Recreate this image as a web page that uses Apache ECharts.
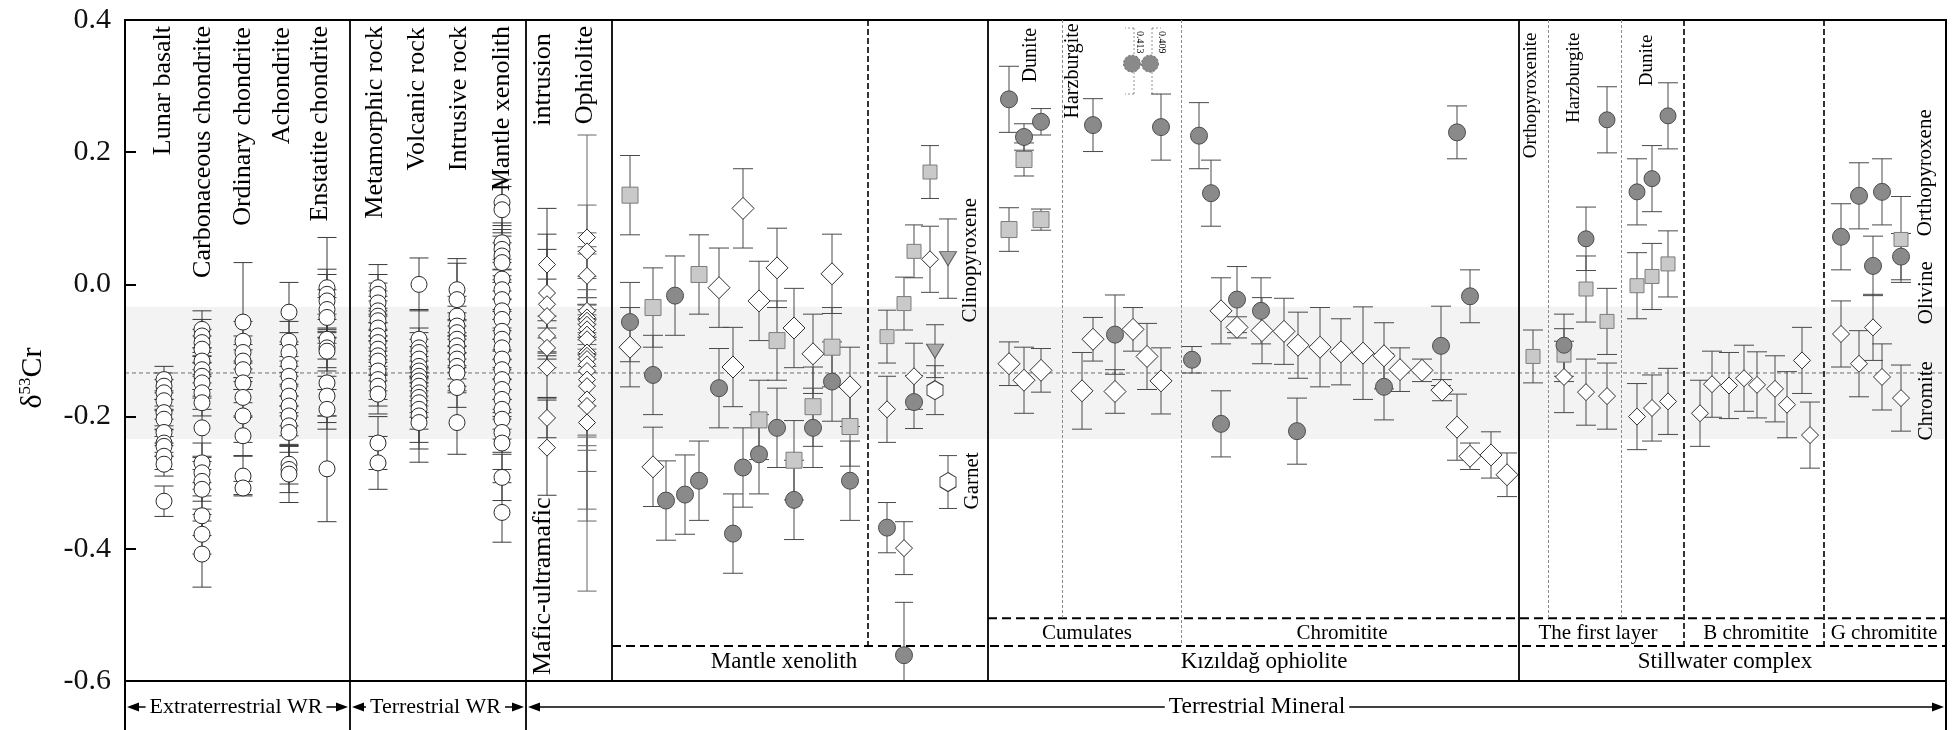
<!DOCTYPE html>
<html>
<head>
<meta charset="utf-8">
<title>δ53Cr compilation</title>
<script src="https://cdn.jsdelivr.net/npm/echarts/dist/echarts.min.js"></script>
<style>
  html, body { margin: 0; padding: 0; background: #fff; }
  #chart { width: 1959px; height: 730px; }
</style>
</head>
<body>
<div id="chart"></div>
<script>
// ---------------------------------------------------------------------------
// Axis ranges. The horizontal axis is a running "sample position" axis.
// ---------------------------------------------------------------------------
const X_MAX = 182.1;
const Y_MIN = -0.6, Y_MAX = 0.4, Y_STEP = 0.2;

// Bulk silicate Earth reference band and its mean
const bseBand = [-0.234, -0.034];
const bseMean = -0.134;

// ---------------------------------------------------------------------------
// Whole-rock columns: [δ53Cr, 2SD]
// ---------------------------------------------------------------------------
const wrColumnX = [3.9, 7.7, 11.8, 16.4, 20.2, 25.3, 29.4, 33.2, 37.7, 42.2, 46.2];

const lunarBasalt = [[-0.144,0.02],[-0.154,0.02],[-0.164,0.02],[-0.176,0.015],[-0.194,0.02],[-0.204,0.015],[-0.224,0.02],[-0.240,0.02],[-0.245,0.015],[-0.260,0.02],[-0.272,0.018],[-0.328,0.023]];
const carbonaceousChondrite = [[-0.068,0.028],[-0.078,0.025],[-0.088,0.02],[-0.098,0.02],[-0.116,0.02],[-0.129,0.02],[-0.139,0.02],[-0.149,0.02],[-0.164,0.025],[-0.179,0.02],[-0.217,0.045],[-0.270,0.03],[-0.285,0.025],[-0.298,0.03],[-0.310,0.03],[-0.350,0.03],[-0.378,0.03],[-0.408,0.05]];
const ordinaryChondrite = [[-0.057,0.09],[-0.086,0.03],[-0.103,0.025],[-0.116,0.025],[-0.129,0.03],[-0.149,0.03],[-0.171,0.03],[-0.199,0.04],[-0.229,0.03],[-0.290,0.03],[-0.308,0.01]];
const achondrite = [[-0.042,0.045],[-0.086,0.03],[-0.103,0.03],[-0.121,0.03],[-0.139,0.03],[-0.154,0.03],[-0.169,0.03],[-0.184,0.03],[-0.199,0.03],[-0.214,0.03],[-0.224,0.03],[-0.272,0.03],[-0.280,0.035],[-0.287,0.043]];
const enstatiteChondrite = [[-0.005,0.076],[-0.015,0.03],[-0.025,0.048],[-0.038,0.03],[-0.050,0.03],[-0.083,0.03],[-0.096,0.03],[-0.101,0.03],[-0.149,0.06],[-0.169,0.03],[-0.189,0.03],[-0.279,0.08]];
const metamorphicRock = [[-0.005,0.035],[-0.015,0.03],[-0.028,0.03],[-0.040,0.03],[-0.048,0.03],[-0.055,0.03],[-0.066,0.03],[-0.078,0.03],[-0.088,0.03],[-0.098,0.03],[-0.108,0.03],[-0.116,0.03],[-0.131,0.03],[-0.144,0.03],[-0.154,0.03],[-0.166,0.03],[-0.240,0.04],[-0.270,0.04]];
const volcanicRock = [[0.000,0.04],[-0.083,0.045],[-0.096,0.03],[-0.103,0.03],[-0.113,0.03],[-0.124,0.03],[-0.131,0.03],[-0.139,0.03],[-0.146,0.03],[-0.154,0.03],[-0.164,0.03],[-0.171,0.03],[-0.179,0.04],[-0.189,0.05],[-0.199,0.05],[-0.209,0.06]];
const intrusiveRock = [[-0.008,0.047],[-0.023,0.055],[-0.048,0.03],[-0.063,0.03],[-0.073,0.03],[-0.083,0.03],[-0.093,0.03],[-0.103,0.03],[-0.113,0.03],[-0.124,0.03],[-0.134,0.03],[-0.156,0.03],[-0.209,0.048]];
const mantleXenolithWR = [[0.124,0.035],[0.113,0.035],[0.063,0.03],[0.053,0.03],[0.043,0.03],[0.033,0.03],[0.008,0.03],[-0.008,0.03],[-0.023,0.03],[-0.040,0.03],[-0.053,0.03],[-0.071,0.03],[-0.083,0.03],[-0.096,0.03],[-0.113,0.03],[-0.129,0.03],[-0.144,0.03],[-0.159,0.03],[-0.174,0.03],[-0.189,0.03],[-0.204,0.03],[-0.224,0.03],[-0.240,0.04],[-0.292,0.035],[-0.345,0.045]];
const maficUltramaficIntrusion = [[0.030,0.085],[-0.013,0.089],[-0.030,0.083],[-0.048,0.056],[-0.078,0.03],[-0.096,0.03],[-0.126,0.045],[-0.202,0.03],[-0.247,0.072]];
const ophioliteWR = [[0.071,0.155],[0.050,0.07],[0.013,0.065],[-0.040,0.02],[-0.050,0.03],[-0.055,0.025],[-0.061,0.03],[-0.068,0.03],[-0.076,0.03],[-0.083,0.03],[-0.103,0.03],[-0.108,0.12],[-0.113,0.17],[-0.121,0.13],[-0.131,0.10],[-0.144,0.04],[-0.154,0.204],[-0.174,0.166],[-0.184,0.06],[-0.209,0.255]];

// ---------------------------------------------------------------------------
// Mineral separates: [sample position, δ53Cr, 2SD]
// ---------------------------------------------------------------------------
// Mantle xenoliths
const mxOlivine = [[50.5,-0.057,0.06],[52.8,-0.137,0.06],[54.1,-0.327,0.06],[55.0,-0.017,0.06],[56.0,-0.318,0.06],[57.4,-0.297,0.06],[59.4,-0.157,0.06],[60.8,-0.377,0.06],[61.8,-0.277,0.06],[63.4,-0.257,0.06],[65.2,-0.217,0.06],[66.9,-0.326,0.06],[68.8,-0.217,0.06],[70.7,-0.147,0.06],[72.5,-0.297,0.06]];
const mxOrthopyroxene = [[50.5,0.135,0.06],[52.8,-0.035,0.06],[57.4,0.015,0.06],[63.4,-0.205,0.06],[65.2,-0.085,0.06],[66.9,-0.266,0.06],[68.8,-0.185,0.06],[70.7,-0.095,0.06],[72.5,-0.215,0.06]];
const mxSpinel = [[50.5,-0.095,0.06],[52.8,-0.276,0.06],[59.4,-0.005,0.06],[60.8,-0.125,0.06],[61.8,0.115,0.06],[63.4,-0.025,0.06],[65.2,0.025,0.06],[66.9,-0.066,0.06],[68.8,-0.105,0.06],[70.7,0.016,0.06],[72.5,-0.155,0.06]];
const mxbOrthopyroxene = [[76.2,-0.079,0.04],[77.9,-0.029,0.04],[78.9,0.050,0.04],[80.5,0.170,0.04]];
const mxbSpinel = [[76.2,-0.189,0.05],[77.9,-0.399,0.04],[78.9,-0.139,0.05],[80.5,0.038,0.05]];
const mxbOlivine = [[76.2,-0.368,0.038],[77.9,-0.561,0.08],[78.9,-0.178,0.04]];
const mxbClinopyroxene = [[81.0,-0.101,0.04],[82.3,0.039,0.06]];
const mxbGarnet = [[81.0,-0.160,0.037],[82.3,-0.299,0.04]];

// Kızıldağ ophiolite
const kzOlivine = [[88.4,0.280,0.05],[89.9,0.223,0.02],[91.6,0.246,0.02],[96.8,0.241,0.04],[99.0,-0.076,0.06],[103.6,0.238,0.05],[106.7,-0.114,0.02],[107.4,0.225,0.05],[108.6,0.138,0.05],[109.6,-0.211,0.05],[111.2,-0.023,0.05],[113.6,-0.040,0.05],[117.2,-0.222,0.05],[125.9,-0.155,0.05],[131.6,-0.093,0.06],[133.2,0.230,0.04],[134.5,-0.018,0.04]];
const kzOlivineOffScale = [[100.7,0.413],[102.5,0.409]];
const kzPyroxene = [[88.4,0.083,0.033],[89.9,0.189,0.025],[91.6,0.098,0.016]];
const kzChromite = [[88.4,-0.120,0.033],[89.9,-0.145,0.05],[91.6,-0.130,0.033],[95.7,-0.161,0.058],[96.8,-0.083,0.033],[99.0,-0.162,0.033],[100.8,-0.068,0.033],[102.2,-0.109,0.05],[103.6,-0.146,0.05],[109.6,-0.040,0.05],[111.2,-0.065,0.016],[113.7,-0.070,0.05],[115.9,-0.071,0.05],[117.3,-0.092,0.05],[119.5,-0.095,0.06],[121.6,-0.102,0.05],[123.8,-0.104,0.07],[125.9,-0.108,0.05],[127.5,-0.129,0.033],[129.7,-0.130,0.017],[131.7,-0.160,0.016],[133.2,-0.216,0.05],[134.5,-0.260,0.02],[136.6,-0.258,0.035],[138.2,-0.288,0.033]];

// Stillwater complex
const swOrthopyroxene = [[140.8,-0.109,0.04],[143.9,-0.107,0.04],[146.1,-0.007,0.05],[148.2,-0.056,0.05],[151.2,-0.002,0.05],[152.7,0.012,0.05],[154.3,0.031,0.05]];
const swOlivine = [[143.9,-0.092,0.047],[146.1,0.069,0.048],[148.2,0.249,0.05],[151.2,0.140,0.05],[152.7,0.160,0.05],[154.3,0.255,0.05]];
const swChromite = [[143.9,-0.140,0.054],[146.1,-0.163,0.05],[148.2,-0.169,0.05],[151.2,-0.200,0.05],[152.7,-0.187,0.05],[154.3,-0.177,0.05]];
const bChromitite = [[157.5,-0.195,0.05],[158.7,-0.151,0.05],[160.4,-0.153,0.05],[161.9,-0.142,0.05],[163.2,-0.152,0.05],[165.0,-0.158,0.05],[166.2,-0.182,0.05],[167.7,-0.115,0.05],[168.5,-0.228,0.05]];
const gOlivine = [[171.6,0.072,0.05],[173.4,0.134,0.05],[174.8,0.028,0.045],[175.7,0.140,0.05],[177.6,0.042,0.035]];
const gOrthopyroxene = [[177.6,0.068,0.065]];
const gChromite = [[171.6,-0.075,0.05],[173.4,-0.120,0.05],[174.8,-0.065,0.05],[175.7,-0.140,0.05],[177.6,-0.172,0.05]];

// ---------------------------------------------------------------------------
// Text
// ---------------------------------------------------------------------------
const wrNames = ['Lunar basalt','Carbonaceous chondrite','Ordinary chondrite','Achondrite','Enstatite chondrite','Metamorphic rock','Volcanic rock','Intrusive rock','Mantle xenolith','intrusion','Ophiolite'];
const wrNameX = [3.8, 7.8, 11.8, 15.7, 19.5, 25.0, 29.25, 33.4, 37.7, 41.8, 46.0];
const wrNameTop = [0.391, 0.391, 0.389, 0.389, 0.391, 0.391, 0.389, 0.391, 0.391, 0.380, 0.391];
const maficLowerName = 'Mafic-ultramafic';
const maficLowerAt = [41.8, -0.591];

const kzRockNames = ['Dunite', 'Harzburgite'];
const kzRockX = [90.6, 94.8];
const kzRockTop = [0.388, 0.395];
const swRockNames = ['Orthopyroxenite', 'Harzburgite', 'Dunite'];
const swRockX = [140.6, 144.9, 152.2];
const swRockTop = [0.381, 0.381, 0.378];
const mineralNames = ['Clinopyroxene', 'Garnet', 'Orthopyroxene', 'Olivine', 'Chromite'];
const mineralNameX = [84.5, 84.7, 180.0, 180.1, 180.1];
const mineralNameTop = [0.131, -0.254, 0.265, 0.035, -0.116];

const unitNames = ['Cumulates', 'Chromitite', 'The first layer', 'B chromitite', 'G chromitite'];
const unitNameX = [96.2, 121.7, 147.3, 163.1, 175.9];
const complexNames = ['Mantle xenolith', 'Kızıldağ ophiolite', 'Stillwater complex'];
const complexNameX = [65.9, 113.9, 160.0];
const groupNames = ['Extraterrestrial WR', 'Terrestrial WR', 'Terrestrial Mineral'];
const groupSpans = [[0, 22.5], [22.5, 40.1], [40.1, X_MAX]];
const groupNameX = [11.1, 31.05, 113.2];
const groupNameSize = [22, 22, 23.5];

// ---------------------------------------------------------------------------
// Panel layout (positions along the sample axis / δ53Cr)
// ---------------------------------------------------------------------------
const fullDividers = [22.5, 40.1];
const plotDividers = [48.7, 86.3, 139.4];
const dashedDividers = [74.3, 155.9, 169.9];
const dottedToUnitRow = [93.7, 142.3, 149.6];
const dottedToComplexRow = [105.6];
const complexRow = { from: 48.7, y: -0.547 };
const unitRow = { from: 86.3, y: -0.505 };
const unitLabelY = -0.5274;
const complexLabelY = -0.5713;
const OFFSCALE_AT = Y_MAX - 0.066;

const FONT = '"Liberation Serif", "Times New Roman", serif';

// ---------------------------------------------------------------------------
// Error bars
// ---------------------------------------------------------------------------
const barData = [], barCap = [], barColor = [];
function addBars(points, cap, color) {
  points.forEach(p => { barData.push([p[0], p[1], p[2]]); barCap.push(cap); barColor.push(color); });
}
const wrColumns = [lunarBasalt, carbonaceousChondrite, ordinaryChondrite, achondrite, enstatiteChondrite,
  metamorphicRock, volcanicRock, intrusiveRock, mantleXenolithWR, maficUltramaficIntrusion, ophioliteWR];
const wrPoints = wrColumns.map((col, i) => col.map(([v, e]) => [wrColumnX[i], v, e]));
wrPoints.forEach((pts, i) => addBars(pts, 9.5, i === 10 ? '#666' : '#3a3a3a'));

[mxOlivine, mxOrthopyroxene, mxSpinel, kzOlivine, kzPyroxene, kzChromite].forEach(s => addBars(s, 10, '#4a4a4a'));
[mxbOrthopyroxene, mxbSpinel, mxbOlivine, mxbClinopyroxene, mxbGarnet].forEach(s => addBars(s, 9, '#4a4a4a'));
[swOrthopyroxene, swOlivine, swChromite, bChromitite, gOlivine, gOrthopyroxene, gChromite].forEach(s => addBars(s, 10, '#4a4a4a'));

function renderBar(params, api) {
  const x = api.value(0), v = api.value(1), e = api.value(2);
  const cap = barCap[params.dataIndex], stroke = barColor[params.dataIndex];
  const t = api.coord([x, v + e]), b = api.coord([x, v - e]);
  const st = { stroke, lineWidth: 1 };
  return { type: 'group', children: [
    { type: 'line', shape: { x1: t[0], y1: t[1], x2: b[0], y2: b[1] }, style: st },
    { type: 'line', shape: { x1: t[0] - cap, y1: t[1], x2: t[0] + cap, y2: t[1] }, style: st },
    { type: 'line', shape: { x1: b[0] - cap, y1: b[1], x2: b[0] + cap, y2: b[1] }, style: st }
  ]};
}

// ---------------------------------------------------------------------------
// Marker styles
// ---------------------------------------------------------------------------
const HEXAGON = 'path://M0,-10L8.66,-5L8.66,5L0,10L-8.66,5L-8.66,-5Z';
const TRIANGLE_DOWN = 'path://M0,0L20,0L10,17Z';
const OL = { fill: '#8a8a8a', stroke: '#4d4d4d' };
const PX = { fill: '#c9c9c9', stroke: '#7c7c7c' };
const CR = { fill: '#ffffff', stroke: '#2e2e2e' };

function markers(points, symbol, size, look) {
  return {
    type: 'scatter', silent: true, z: 3,
    data: points.map(p => [p[0], p[1]]),
    symbol, symbolSize: size,
    itemStyle: { color: look.fill, borderColor: look.stroke, borderWidth: 1, opacity: 1 }
  };
}

const markerSeries = [
  // whole rocks
  ...wrPoints.slice(0, 9).map(pts => markers(pts, 'circle', 16, { fill: '#fff', stroke: '#2a2a2a' })),
  ...wrPoints.slice(9).map(pts => markers(pts, 'diamond', [17, 17], { fill: '#fff', stroke: '#2a2a2a' })),
  // mantle xenoliths
  markers(mxOrthopyroxene, 'rect', 16, PX),
  markers(mxSpinel, 'diamond', [22, 22], CR),
  markers(mxOlivine, 'circle', 17, OL),
  markers(mxbOrthopyroxene, 'rect', 14, PX),
  markers(mxbSpinel, 'diamond', [17, 17], CR),
  markers(mxbOlivine, 'circle', 17, OL),
  markers(mxbClinopyroxene, TRIANGLE_DOWN, [17, 14], { fill: '#a9a9a9', stroke: '#5a5a5a' }),
  markers(mxbGarnet, HEXAGON, [16, 19], { fill: '#fff', stroke: '#3a3a3a' }),
  // Kızıldağ
  markers(kzPyroxene, 'rect', 16, PX),
  markers(kzChromite, 'diamond', [22, 22], CR),
  markers(kzOlivine, 'circle', 17, OL),
  // Stillwater
  markers(swOrthopyroxene, 'rect', 14, PX),
  markers(gOrthopyroxene, 'rect', 14, PX),
  markers(swChromite, 'diamond', [17, 17], CR),
  markers(bChromitite, 'diamond', [17, 17], CR),
  markers(gChromite, 'diamond', [17, 17], CR),
  markers(swOlivine, 'circle', 16, OL),
  markers(gOlivine, 'circle', 17, OL)
];

// ---------------------------------------------------------------------------
// Background band, frame, labels
// ---------------------------------------------------------------------------
function renderBand(params, api) {
  const cs = params.coordSys;
  const yTop = api.coord([0, bseBand[1]])[1];
  const yBot = api.coord([0, bseBand[0]])[1];
  const yMean = api.coord([0, bseMean])[1];
  return { type: 'group', children: [
    { type: 'rect', shape: { x: cs.x, y: yTop, width: cs.width, height: yBot - yTop }, style: { fill: '#f3f3f3' } },
    { type: 'line', shape: { x1: cs.x, y1: yMean, x2: cs.x + cs.width, y2: yMean },
      style: { stroke: '#707070', lineWidth: 1, lineDash: [4, 3] } }
  ]};
}

function renderFrame(params, api) {
  const cs = params.coordSys;
  const L = cs.x, T = cs.y, R = cs.x + cs.width, B = cs.y + cs.height;
  const H = api.getHeight();
  const X = v => api.coord([v, 0])[0];
  const Y = v => api.coord([0, v])[1];
  const ch = [];
  const seg = (x1, y1, x2, y2, stroke, lineWidth, lineDash) =>
    ch.push({ type: 'line', shape: { x1, y1, x2, y2 }, style: { stroke, lineWidth, lineDash: lineDash || null } });

  seg(L - 1, T, R + 1, T, '#000', 2);
  seg(L, B, R, B, '#000', 2);
  seg(L, T - 1, L, H, '#000', 2);
  seg(R, T - 1, R, H, '#000', 2);
  fullDividers.forEach(x => seg(X(x), T, X(x), H, '#000', 1.8));
  plotDividers.forEach(x => seg(X(x), T, X(x), B, '#000', 1.8));

  const yc = Y(complexRow.y), yu = Y(unitRow.y);
  seg(X(complexRow.from), yc, R, yc, '#000', 2, [9, 5]);
  seg(X(unitRow.from), yu, R, yu, '#000', 2, [9, 5]);
  dashedDividers.forEach(x => seg(X(x), T, X(x), yc, '#000', 1.6, [6, 3]));
  dottedToUnitRow.forEach(x => seg(X(x) + 0.5, T, X(x) + 0.5, yu, '#8a8a8a', 1, [3, 2]));
  dottedToComplexRow.forEach(x => seg(X(x) + 0.5, T, X(x) + 0.5, yc, '#8a8a8a', 1, [3, 2]));

  // arrows of the bottom strip
  const ya = B + 26;
  groupSpans.forEach((span, i) => {
    const x1 = X(span[0]) + 2, x2 = X(span[1]) - 2;
    seg(x1 + 8, ya, x2 - 8, ya, '#000', 1.4);
    ch.push({ type: 'polygon', shape: { points: [[x1, ya], [x1 + 12, ya - 4.5], [x1 + 12, ya + 4.5]] }, style: { fill: '#000' } });
    ch.push({ type: 'polygon', shape: { points: [[x2, ya], [x2 - 12, ya - 4.5], [x2 - 12, ya + 4.5]] }, style: { fill: '#000' } });
    ch.push(hText(X(groupNameX[i]), ya, groupNames[i], groupNameSize[i], true));
  });
  return { type: 'group', children: ch };
}

function hText(x, y, text, size, boxed) {
  const style = { text, fontSize: size, fontFamily: FONT, fill: '#000',
    align: 'center', textAlign: 'center', verticalAlign: 'middle', textVerticalAlign: 'middle' };
  if (boxed) { style.backgroundColor = '#fff'; style.padding = [0, 4]; }
  return { type: 'text', x, y, style };
}

function vText(p, text, size, align) {
  return { type: 'text', x: p[0], y: p[1], rotation: Math.PI / 2,
    style: { text, fontSize: size, fontFamily: FONT, fill: '#000',
      align, textAlign: align, verticalAlign: 'middle', textVerticalAlign: 'middle' } };
}

function renderLabels(params, api) {
  const ch = [];
  wrNames.forEach((t, i) => ch.push(vText(api.coord([wrNameX[i], wrNameTop[i]]), t, 26, 'right')));
  ch.push(vText(api.coord(maficLowerAt), maficLowerName, 26, 'left'));
  kzRockNames.forEach((t, i) => ch.push(vText(api.coord([kzRockX[i], kzRockTop[i]]), t, 20, 'right')));
  swRockNames.forEach((t, i) => ch.push(vText(api.coord([swRockX[i], swRockTop[i]]), t, 19, 'right')));
  mineralNames.forEach((t, i) => ch.push(vText(api.coord([mineralNameX[i], mineralNameTop[i]]), t, 21, 'right')));
  unitNames.forEach((t, i) => { const p = api.coord([unitNameX[i], unitLabelY]); ch.push(hText(p[0], p[1], t, 21)); });
  complexNames.forEach((t, i) => { const p = api.coord([complexNameX[i], complexLabelY]); ch.push(hText(p[0], p[1], t, 23)); });
  return { type: 'group', children: ch };
}

// olivine values above the axis range: drawn in the headroom with dashed outline and their value
function renderOffScale(params, api) {
  const x = api.value(0), v = api.value(1);
  const p = api.coord([x, OFFSCALE_AT]);
  const top = params.coordSys.y;
  const side = params.dataIndex === 0 ? -1 : 1;
  const bx = p[0] + 2;
  const dash = { stroke: '#777', lineWidth: 0.8, lineDash: [2, 2] };
  return { type: 'group', children: [
    { type: 'line', shape: { x1: bx, y1: top + 8, x2: bx, y2: top + 74 }, style: dash },
    { type: 'line', shape: { x1: bx, y1: top + 8, x2: bx + side * 9, y2: top + 8 }, style: dash },
    { type: 'line', shape: { x1: bx, y1: top + 74, x2: bx + side * 9, y2: top + 74 }, style: dash },
    { type: 'circle', shape: { cx: p[0], cy: p[1], r: 8.5 },
      style: { fill: '#8a8a8a', stroke: '#666', lineWidth: 1, lineDash: [2, 2] } },
    { type: 'text', x: bx + (side < 0 ? 6 : 10), y: top + 11, rotation: -Math.PI / 2,
      style: { text: v.toFixed(3), fontSize: 10, fontFamily: FONT, fill: '#000',
        align: 'left', textAlign: 'left', verticalAlign: 'middle', textVerticalAlign: 'middle' } }
  ]};
}

// ---------------------------------------------------------------------------
const chart = echarts.init(document.getElementById('chart'), null, { renderer: 'canvas' });
chart.setOption({
  animation: false,
  backgroundColor: '#fff',
  textStyle: { fontFamily: FONT },
  grid: { left: 125, right: 13, top: 20, bottom: 49, containLabel: false },
  xAxis: { type: 'value', min: 0, max: X_MAX, show: false },
  yAxis: {
    type: 'value', min: Y_MIN, max: Y_MAX, interval: Y_STEP,
    axisLine: { show: false },
    axisTick: { show: true, inside: true, length: 11, lineStyle: { color: '#000', width: 2 } },
    axisLabel: { color: '#111', fontSize: 30, fontFamily: FONT, margin: 14,
      formatter: v => (Math.abs(v) < 1e-9 ? 0 : v).toFixed(1) },
    splitLine: { show: false }
  },
  graphic: [{
    type: 'text', x: 33, y: 378, rotation: Math.PI / 2, z: 10,
    style: {
      text: '{a|δ}{b|53}{a|Cr}', fill: '#000', align: 'center', verticalAlign: 'middle',
      rich: {
        a: { fontSize: 30, fontFamily: FONT, fill: '#000', lineHeight: 32 },
        b: { fontSize: 17, fontFamily: FONT, fill: '#000', lineHeight: 32, verticalAlign: 'top' }
      }
    }
  }],
  series: [
    { type: 'custom', name: 'band', silent: true, z: 0, clip: false, data: [[0, 0]], renderItem: renderBand },
    { type: 'custom', name: 'errors', silent: true, z: 2, clip: true, data: barData, renderItem: renderBar },
    ...markerSeries,
    { type: 'custom', name: 'offscale', silent: true, z: 4, clip: false, data: kzOlivineOffScale, renderItem: renderOffScale },
    { type: 'custom', name: 'frame', silent: true, z: 5, clip: false, data: [[0, 0]], renderItem: renderFrame },
    { type: 'custom', name: 'labels', silent: true, z: 6, clip: false, data: [[0, 0]], renderItem: renderLabels }
  ]
});
</script>
</body>
</html>
